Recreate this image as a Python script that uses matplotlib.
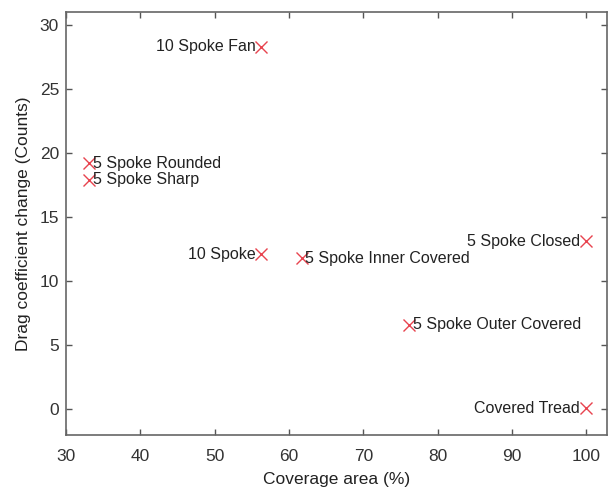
import matplotlib
matplotlib.use("Agg")
import matplotlib.pyplot as plt

plt.rcParams['font.family'] = ['Liberation Sans', 'DejaVu Sans']

names = ['10 Spoke Fan', '5 Spoke Rounded', '5 Spoke Sharp', '10 Spoke',
         '5 Spoke Inner Covered', '5 Spoke Closed', '5 Spoke Outer Covered',
         'Covered Tread']
coverage = [56.3, 33.1, 33.1, 56.3, 61.7, 100.0, 76.2, 100.0]
drag_change = [28.3, 19.2, 17.9, 12.1, 11.8, 13.1, 6.6, 0.1]
label_left = [True, False, False, True, False, True, False, True]

fig = plt.figure(figsize=(6.1, 4.87), dpi=100)
ax = fig.add_axes([66 / 610, 1 - 435 / 487, (607 - 66) / 610, (435 - 12) / 487])

ax.plot(coverage, drag_change, linestyle='none', marker='x', markersize=9,
        markeredgewidth=1.0, color='#e8434f')

for x, y, name, left in zip(coverage, drag_change, names, label_left):
    if left:
        ax.text(x - 0.8, y, name, ha='right', va='center', fontsize=11.5, color='#222222')
    else:
        ax.text(x + 0.5, y, name, ha='left', va='center', fontsize=11.5, color='#222222')

ax.set_xlim(30, 102.8)
ax.set_ylim(-2, 31)
ax.set_xticks(range(30, 101, 10))
ax.set_yticks(range(0, 31, 5))
ax.tick_params(direction='in', top=True, right=True, length=4, width=1,
               colors='#555555', labelcolor='#333333', labelsize=12.5)
ax.tick_params(axis='x', pad=10)
ax.tick_params(axis='y', pad=5)
for s in ax.spines.values():
    s.set_color('#666666')
    s.set_linewidth(1.2)

ax.set_xlabel('Coverage area (%)', fontsize=12.5, color='#222222', labelpad=6)
ax.set_ylabel('Drag coefficient change (Counts)', fontsize=12.5, color='#222222', labelpad=6)

fig.savefig('out.png', dpi=100)
